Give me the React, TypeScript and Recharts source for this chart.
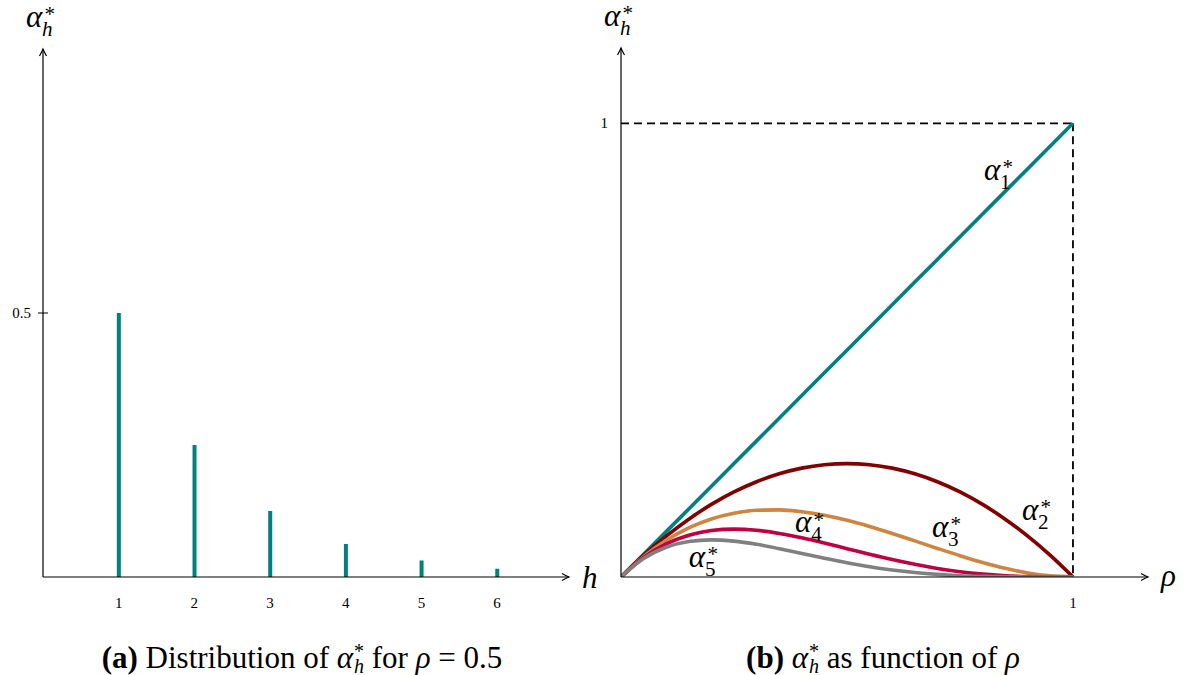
import React from 'react';
import { ComposedChart, Bar, XAxis, YAxis, LineChart, Line, ReferenceLine, ReferenceDot } from 'recharts';

// (a) distribution for rho = 0.5
const hValues = [1, 2, 3, 4, 5, 6];
const alphaAtHalf = [0.5, 0.25, 0.125, 0.0625, 0.0313, 0.0156];
const leftXTicks = [1, 2, 3, 4, 5, 6];
const leftYTicks = [0.5];

// (b) alpha_h as function of rho
const rho = [0, 0.05, 0.1, 0.15, 0.2, 0.25, 0.3, 0.35, 0.4, 0.45, 0.5, 0.55, 0.6, 0.65, 0.7, 0.75, 0.8, 0.85, 0.9, 0.95, 1];
const alpha1 = [0, 0.05, 0.1, 0.15, 0.2, 0.25, 0.3, 0.35, 0.4, 0.45, 0.5, 0.55, 0.6, 0.65, 0.7, 0.75, 0.8, 0.85, 0.9, 0.95, 1];
const alpha2 = [0, 0.0475, 0.09, 0.1275, 0.16, 0.1875, 0.21, 0.2275, 0.24, 0.2475, 0.25, 0.2475, 0.24, 0.2275, 0.21, 0.1875, 0.16, 0.1275, 0.09, 0.0475, 0];
const alpha3 = [0, 0.0451, 0.081, 0.1084, 0.128, 0.1406, 0.147, 0.1479, 0.144, 0.1361, 0.125, 0.1114, 0.096, 0.0796, 0.063, 0.0469, 0.032, 0.0191, 0.009, 0.0024, 0];
const alpha4 = [0, 0.0429, 0.0729, 0.0921, 0.1024, 0.1055, 0.1029, 0.0961, 0.0864, 0.0749, 0.0625, 0.0501, 0.0384, 0.0279, 0.0189, 0.0117, 0.0064, 0.0029, 0.0009, 0.0001, 0];
const alpha5 = [0, 0.0407, 0.0656, 0.0783, 0.0819, 0.0791, 0.072, 0.0625, 0.0518, 0.0412, 0.0313, 0.0225, 0.0154, 0.0098, 0.0057, 0.0029, 0.0013, 0.0004, 0.0001, 0, 0];
const rightTicks = [1];
const curveNames = ['1', '2', '3', '4', '5'];
// where each curve name sits (rho, alpha)
const labelRho = [0.803, 0.887, 0.688, 0.385, 0.15];
const labelAlpha = [0.875, 0.126, 0.088, 0.099, 0.022];

const SERIF = '"Liberation Serif", "DejaVu Serif", serif';
const colors = ['#008080', '#800000', '#cd853f', '#bf0040', '#808080'];

const barData = hValues.map((h, i) => ({ h, v: alphaAtHalf[i] }));
const lineData = rho.map((r, i) => ({ rho: r, a1: alpha1[i], a2: alpha2[i], a3: alpha3[i], a4: alpha4[i], a5: alpha5[i] }));

function AlphaText({ x, y, sub, italicSub = false, size = 31 }: any) {
  const s = size * 0.68;
  return (
    <g fontFamily={SERIF} fill="#000">
      <text x={x} y={y} fontSize={size} fontStyle="italic">α</text>
      <text x={x + size * 0.6} y={y - size * 0.18} fontSize={s}>*</text>
      <text x={x + size * 0.52} y={y + size * 0.3} fontSize={s} fontStyle={italicSub ? 'italic' : 'normal'}>{sub}</text>
    </g>
  );
}

function XArrow({ viewBox, name, dy = 11 }: any) {
  const tip = viewBox.x + viewBox.width;
  const y = viewBox.y;
  return (
    <g>
      <path d={`M${tip - 7},${y - 3.5} Q${tip - 2},${y - 0.8} ${tip},${y} Q${tip - 2},${y + 0.8} ${tip - 7},${y + 3.5}`} fill="none" stroke="#000" strokeWidth={1.2} />
      <text x={tip + 13} y={y + dy} fontFamily={SERIF} fontStyle="italic" fontSize={31}>{name}</text>
    </g>
  );
}

function YArrow({ viewBox }: any) {
  const x = viewBox.x + viewBox.width;
  const tip = viewBox.y;
  return (
    <g>
      <path d={`M${x - 3.5},${tip + 7} Q${x - 0.8},${tip + 2} ${x},${tip} Q${x + 0.8},${tip + 2} ${x + 3.5},${tip + 7}`} fill="none" stroke="#000" strokeWidth={1.2} />
      <AlphaText x={x - 17} y={tip - 22} sub="h" italicSub size={31} />
    </g>
  );
}

function XTick({ x, y, payload }: any) {
  return (
    <text x={x} y={y + 31} textAnchor="middle" fontFamily={SERIF} fontSize={15} fill="#000">{payload.value}</text>
  );
}

function YTickCross({ x, y, payload }: any) {
  return (
    <g>
      <line x1={x - 5} x2={x + 5} y1={y} y2={y} stroke="#000" strokeWidth={1} />
      <text x={x - 12} y={y + 5} textAnchor="end" fontFamily={SERIF} fontSize={15} fill="#000">{payload.value}</text>
    </g>
  );
}

function YTickPlain({ x, y, payload }: any) {
  return (
    <text x={x - 13} y={y + 5} textAnchor="end" fontFamily={SERIF} fontSize={15} fill="#000">{payload.value}</text>
  );
}

function CurveLabel({ viewBox, name }: any) {
  const x = viewBox.x + viewBox.width / 2;
  const y = viewBox.y + viewBox.height / 2;
  return <AlphaText x={x} y={y} sub={name} size={31} />;
}

function LeftChart() {
  return (
    <ComposedChart width={600} height={640} data={barData} margin={{ top: 49, right: 31, bottom: 62, left: 42 }}>
      <XAxis type="number" dataKey="h" domain={[0, 6.95]} ticks={leftXTicks} interval={0} height={1} tickSize={0} tickMargin={0} tickLine={false}
        axisLine={{ stroke: '#000', strokeWidth: 1.2 }} tick={<XTick />} label={<XArrow name="h" dy={11} />} allowDataOverflow />
      <YAxis type="number" domain={[0, 1]} ticks={leftYTicks} interval={0} width={1} tickSize={0} tickMargin={0} tickLine={false}
        axisLine={{ stroke: '#000', strokeWidth: 1.2 }} tick={<YTickCross />} label={<YArrow />} allowDataOverflow />
      <Bar dataKey="v" fill="#008080" barSize={4} isAnimationActive={false} />
    </ComposedChart>
  );
}

function RightChart() {
  return (
    <LineChart width={628} height={640} data={lineData} margin={{ top: 48, right: 40, bottom: 62, left: 60 }}>
      <XAxis type="number" dataKey="rho" domain={[0, 1.166]} ticks={rightTicks} interval={0} height={1} tickSize={0} tickMargin={0} tickLine={false}
        axisLine={{ stroke: '#000', strokeWidth: 1.2 }} tick={<XTick />} label={<XArrow name="ρ" dy={9} />} allowDataOverflow />
      <YAxis type="number" domain={[0, 1.166]} ticks={rightTicks} interval={0} width={1} tickSize={0} tickMargin={0} tickLine={false}
        axisLine={{ stroke: '#000', strokeWidth: 1.2 }} tick={<YTickPlain />} label={<YArrow />} allowDataOverflow />
      <ReferenceLine segment={[{ x: 0, y: 1 }, { x: 1, y: 1 }]} stroke="#000" strokeWidth={1.8} strokeDasharray="8 5" />
      <ReferenceLine segment={[{ x: 1, y: 1 }, { x: 1, y: 0 }]} stroke="#000" strokeWidth={1.8} strokeDasharray="8 5" />
      <Line dataKey="a1" type="linear" stroke={colors[0]} strokeWidth={3.6} dot={false} isAnimationActive={false} />
      <Line dataKey="a2" type="monotone" stroke={colors[1]} strokeWidth={3.6} dot={false} isAnimationActive={false} />
      <Line dataKey="a3" type="monotone" stroke={colors[2]} strokeWidth={3.6} dot={false} isAnimationActive={false} />
      <Line dataKey="a4" type="monotone" stroke={colors[3]} strokeWidth={3.6} dot={false} isAnimationActive={false} />
      <Line dataKey="a5" type="monotone" stroke={colors[4]} strokeWidth={3.6} dot={false} isAnimationActive={false} />
      {curveNames.map((n, i) => (
        <ReferenceDot key={n} x={labelRho[i]} y={labelAlpha[i]} r={1} fill="none" stroke="none" label={<CurveLabel name={n} />} />
      ))}
    </LineChart>
  );
}

export default function App() {
  return (
    <div style={{ position: 'absolute', left: 0, top: 0, width: 1188, height: 675, background: '#fff' }}>
      <div style={{ position: 'absolute', left: 0, top: 0 }}>
        <LeftChart />
      </div>
      <div style={{ position: 'absolute', left: 560, top: 0 }}>
        <RightChart />
      </div>
      <svg width={1188} height={675} style={{ position: 'absolute', left: 0, top: 0, pointerEvents: 'none' }}>
        <text x={302} y={668} textAnchor="middle" fontFamily={SERIF} fontSize={31} fill="#000">
          <tspan fontWeight="bold">(a)</tspan>
          <tspan>{' Distribution of '}</tspan>
          <tspan fontStyle="italic">α</tspan>
          <tspan fontSize={20} dx={1} dy={-10}>*</tspan>
          <tspan fontSize={20} fontStyle="italic" dx={-10} dy={15}>h</tspan>
          <tspan dy={-5}>{' for '}</tspan>
          <tspan fontStyle="italic">ρ</tspan>
          <tspan>{' = 0.5'}</tspan>
        </text>
        <text x={883} y={668} textAnchor="middle" fontFamily={SERIF} fontSize={31} fill="#000">
          <tspan fontWeight="bold">(b)</tspan>
          <tspan>{' '}</tspan>
          <tspan fontStyle="italic">α</tspan>
          <tspan fontSize={20} dx={1} dy={-10}>*</tspan>
          <tspan fontSize={20} fontStyle="italic" dx={-10} dy={15}>h</tspan>
          <tspan dy={-5}>{' as function of '}</tspan>
          <tspan fontStyle="italic">ρ</tspan>
        </text>
      </svg>
    </div>
  );
}
